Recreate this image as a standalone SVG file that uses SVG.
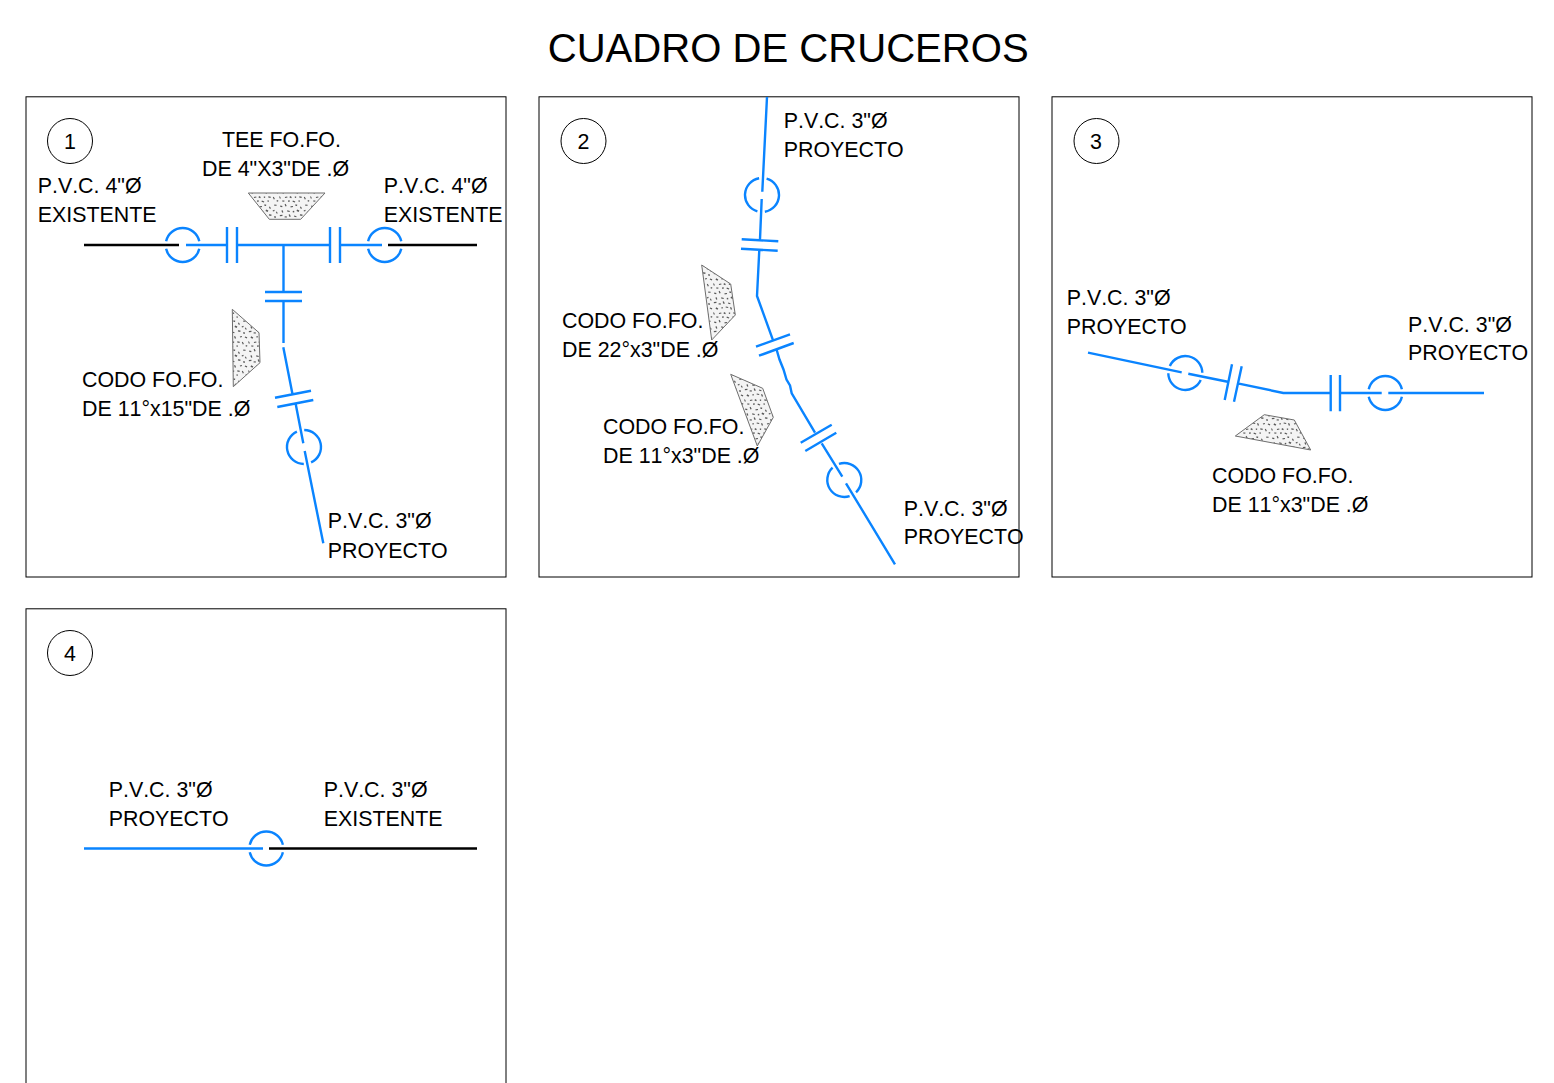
<svg xmlns="http://www.w3.org/2000/svg" width="1554" height="1083" viewBox="0 0 1554 1083">
<style>
text{font-family:"Liberation Sans",Arial,sans-serif;font-size:21.4px;fill:#000;font-kerning:none}
.title{font-size:40.1px}
.frame{fill:none;stroke:#000;stroke-width:1}
.badge{fill:#fff;stroke:#000;stroke-width:1}
.p{fill:none;stroke:#0a84ff;stroke-width:2.4}
.k{fill:none;stroke:#000;stroke-width:2.4}
.block{fill:url(#stip);stroke:#6e6e6e;stroke-width:1}
.mid{text-anchor:middle}
</style>
<defs>
<pattern id="stip" width="31" height="29" patternUnits="userSpaceOnUse">
<rect width="31" height="29" fill="#f4f4f4"/>
<path d="M1.300 2.400l2.200 .6-.4 1.300-2-.5zM6.600 .8l1.100 2.300-1.200 .5-.9-2zM11.400 3.300l2.500-.4 .2 1.100-2.400 .5zM16.500 1.200l1.800 .5-.3 1.400-1.700-.4zM21.800 3.400l1.200 1.900-1.100 .6-1-1.800zM26.300 1.500l2.300 .2v1.100l-2.400-.1zM3.400 7.100l1 2.200-1.200 .4-.8-2zM8.300 7.300l2.600 .7-.4 1-2.400-.6zM13.700 8.100l1.400-.3 .3 1.400-1.500 .3zM18.100 6.400l2.300 1.100-.8 1.500-2.100-1zM24.600 7.400l1.700-.6 .4 1.200-1.700 .6zM28.700 8.500l1.100 1.800-1 .5-1-1.700zM.8 12.100l2.600-.3 .1 1.200-2.600 .3zM5.700 13.200l2.300 .2-.1 1.200-2.300-.2zM10.800 11.200l1 2.400-1.200 .5-1-2.300zM15.200 12.400l2.400 .8-.4 1.100-2.300-.8zM21 11.300l2.500 .3-.2 1.300-2.400-.3zM26.400 13l1.600 .4-.3 1.600-1.600-.4zM3.200 17.200l2.100 1.200-.8 1.400-2-1.100zM8.600 17.100l1.300 .2-.2 1.300-1.300-.2zM12.800 16.500l2.500 .4-.2 1.100-2.500-.4zM18.100 16.900l1 2.300-1.200 .5-.9-2.200zM22.800 17.400l1.900-.5 .4 1.200-1.900 .5zM28.100 17.400l2.200 .9-.5 1.100-2.100-.9zM.9 22.200l1 2.100-1 .4-.8-2zM5.800 22.900l2.400-.5 .3 1.100-2.400 .6zM11 22.100l1.800 .8-.6 1.300-1.700-.8zM15.800 22.400l1.400 .1-.1 1.400-1.300-.1zM20.400 22.200l2.400 .6-.3 1.100-2.300-.5zM25.800 22.700l1.100 2.200-1.100 .5-1-2.200zM3.200 26.400l2.200 .2-.1 1.100-2.100-.1zM9 26.600l1.600-.4 .3 1.300-1.600 .4zM13.900 26.600l2.400 .9-.4 1-2.400-.8zM19.600 26.300l1.300 .3-.3 1.300-1.200-.3zM28.900 25.900l1.500 .5-.4 1.300-1.500-.5z" fill="#585858"/>
</pattern>
<circle id="joint" r="17" pathLength="360" stroke-dasharray="154 26" stroke-dashoffset="-13" fill="none" stroke="#0a84ff" stroke-width="2.4"/>
</defs>
<rect width="1554" height="1083" fill="#fff"/>
<text class="title" x="547.700" y="62">CUADRO DE CRUCEROS</text>

<g id="panel-1">
<rect class="frame" x="26" y="96.800" width="480" height="480.200"/>
<circle class="badge" cx="70" cy="141" r="22.5"/>
<text class="mid" x="70" y="148.500">1</text>
<text x="222" y="146.500">TEE FO.FO.</text>
<text x="202" y="176">DE 4"X3"DE .Ø</text>
<text x="37.700" y="192.500">P.V.C. 4"Ø</text>
<text x="37.700" y="222">EXISTENTE</text>
<text x="383.700" y="192.500">P.V.C. 4"Ø</text>
<text x="383.700" y="222">EXISTENTE</text>
<text x="82" y="387">CODO FO.FO.</text>
<text x="82" y="416">DE 11°x15"DE .Ø</text>
<text x="327.700" y="528">P.V.C. 3"Ø</text>
<text x="327.700" y="557.500">PROYECTO</text>
</g>
<g id="block-tee"><polygon class="block" points="248.300,193 325,193 300.700,219.300 269.300,219.300"/></g>
<g id="block-codo-1"><polygon class="block" points="232.300,309.300 259,332.700 260,362.700 233.300,386.700"/></g>

<g id="panel-2">
<rect class="frame" x="539" y="96.800" width="480" height="480.200"/>
<circle class="badge" cx="583.500" cy="141" r="22.5"/>
<text class="mid" x="583.500" y="148.500">2</text>
<text x="783.700" y="127.500">P.V.C. 3"Ø</text>
<text x="783.700" y="157">PROYECTO</text>
<text x="562" y="328">CODO FO.FO.</text>
<text x="562" y="357">DE 22°x3"DE .Ø</text>
<text x="603" y="434">CODO FO.FO.</text>
<text x="603" y="463">DE 11°x3"DE .Ø</text>
<text x="903.700" y="516">P.V.C. 3"Ø</text>
<text x="903.700" y="544">PROYECTO</text>
</g>
<g id="block-codo-2a"><polygon class="block" points="701.700,265 730.700,284 735.300,315 711.700,340"/></g>
<g id="block-codo-2b"><polygon class="block" points="730.700,374.300 762.700,388.300 773.300,417.300 757.300,446"/></g>

<g id="panel-3">
<rect class="frame" x="1052" y="96.800" width="480" height="480.200"/>
<circle class="badge" cx="1096.500" cy="141" r="22.5"/>
<text class="mid" x="1096" y="148.500">3</text>
<text x="1066.700" y="304.500">P.V.C. 3"Ø</text>
<text x="1066.700" y="334">PROYECTO</text>
<text x="1408" y="331.500">P.V.C. 3"Ø</text>
<text x="1408" y="360">PROYECTO</text>
<text x="1212" y="483">CODO FO.FO.</text>
<text x="1212" y="512">DE 11°x3"DE .Ø</text>
</g>
<g id="block-codo-3"><polygon class="block" points="1264.300,414.700 1294.300,420 1310.700,450 1235.300,436"/></g>

<g id="panel-4">
<rect class="frame" x="26" y="608.800" width="480" height="480"/>
<circle class="badge" cx="70" cy="653" r="22.5"/>
<text class="mid" x="70" y="660.500">4</text>
<text x="108.700" y="797">P.V.C. 3"Ø</text>
<text x="108.700" y="826">PROYECTO</text>
<text x="323.700" y="797">P.V.C. 3"Ø</text>
<text x="323.700" y="826">EXISTENTE</text>
</g>

<g id="connectors">
<!-- panel 1 -->
<path class="k" d="M84 245H179M388 245H477"/>
<path class="p" d="M186 245H227M237 245H330M340 245H382M227 227V263M237 227V263M330 227V263M340 227V263"/>
<path class="p" d="M283.500 245V292M265 292H302M265 301H302M283.500 301V343M283.300 347.300L292.300 393.300M275 397.700L311 390.700M277.300 407L313.300 400M295.700 404L303.300 443.300M304.700 451L323.300 543.300"/>
<use href="#joint" transform="translate(182.700 245)"/>
<use href="#joint" transform="translate(384.700 245)"/>
<use href="#joint" transform="translate(304 447) rotate(78)"/>
<!-- panel 2 -->
<path class="p" d="M767 97L762.300 191.700M761.700 199L760 239.300M741.700 239.300L778.300 241.300M741 248.700L777.700 250.700M759.300 250L757 296L772.700 339.300M756 346.700L790 334.300M759 355.700L793.700 343M776.700 350L779.500 359.500L783.500 369.500L786.500 379.500L790 385.500L791.700 393.300L815 432.700M800.700 442.700L831.700 424.700M805.300 451L836.300 432.700M821.700 443.300L842.300 476.700M846 483.300L895 564.300"/>
<use href="#joint" transform="translate(762 195) rotate(93)"/>
<use href="#joint" transform="translate(844.300 480) rotate(59)"/>
<!-- panel 3 -->
<path class="p" d="M1088 352.700L1181.700 372.300M1188.300 373.700L1227.700 381.700M1232 364.300L1224.700 400M1241.700 366.300L1234 401.700M1237.700 383.300L1283.300 393H1330.700M1330.700 375V411.300M1340 375V411.300M1340 393H1381.700M1388.300 393H1484"/>
<use href="#joint" transform="translate(1185.300 373) rotate(12)"/>
<use href="#joint" transform="translate(1385.300 393)"/>
<!-- panel 4 -->
<path class="p" d="M84 848.500H263"/>
<path class="k" d="M269 848.500H477"/>
<use href="#joint" transform="translate(266.300 848.500)"/>
</g>
</svg>
